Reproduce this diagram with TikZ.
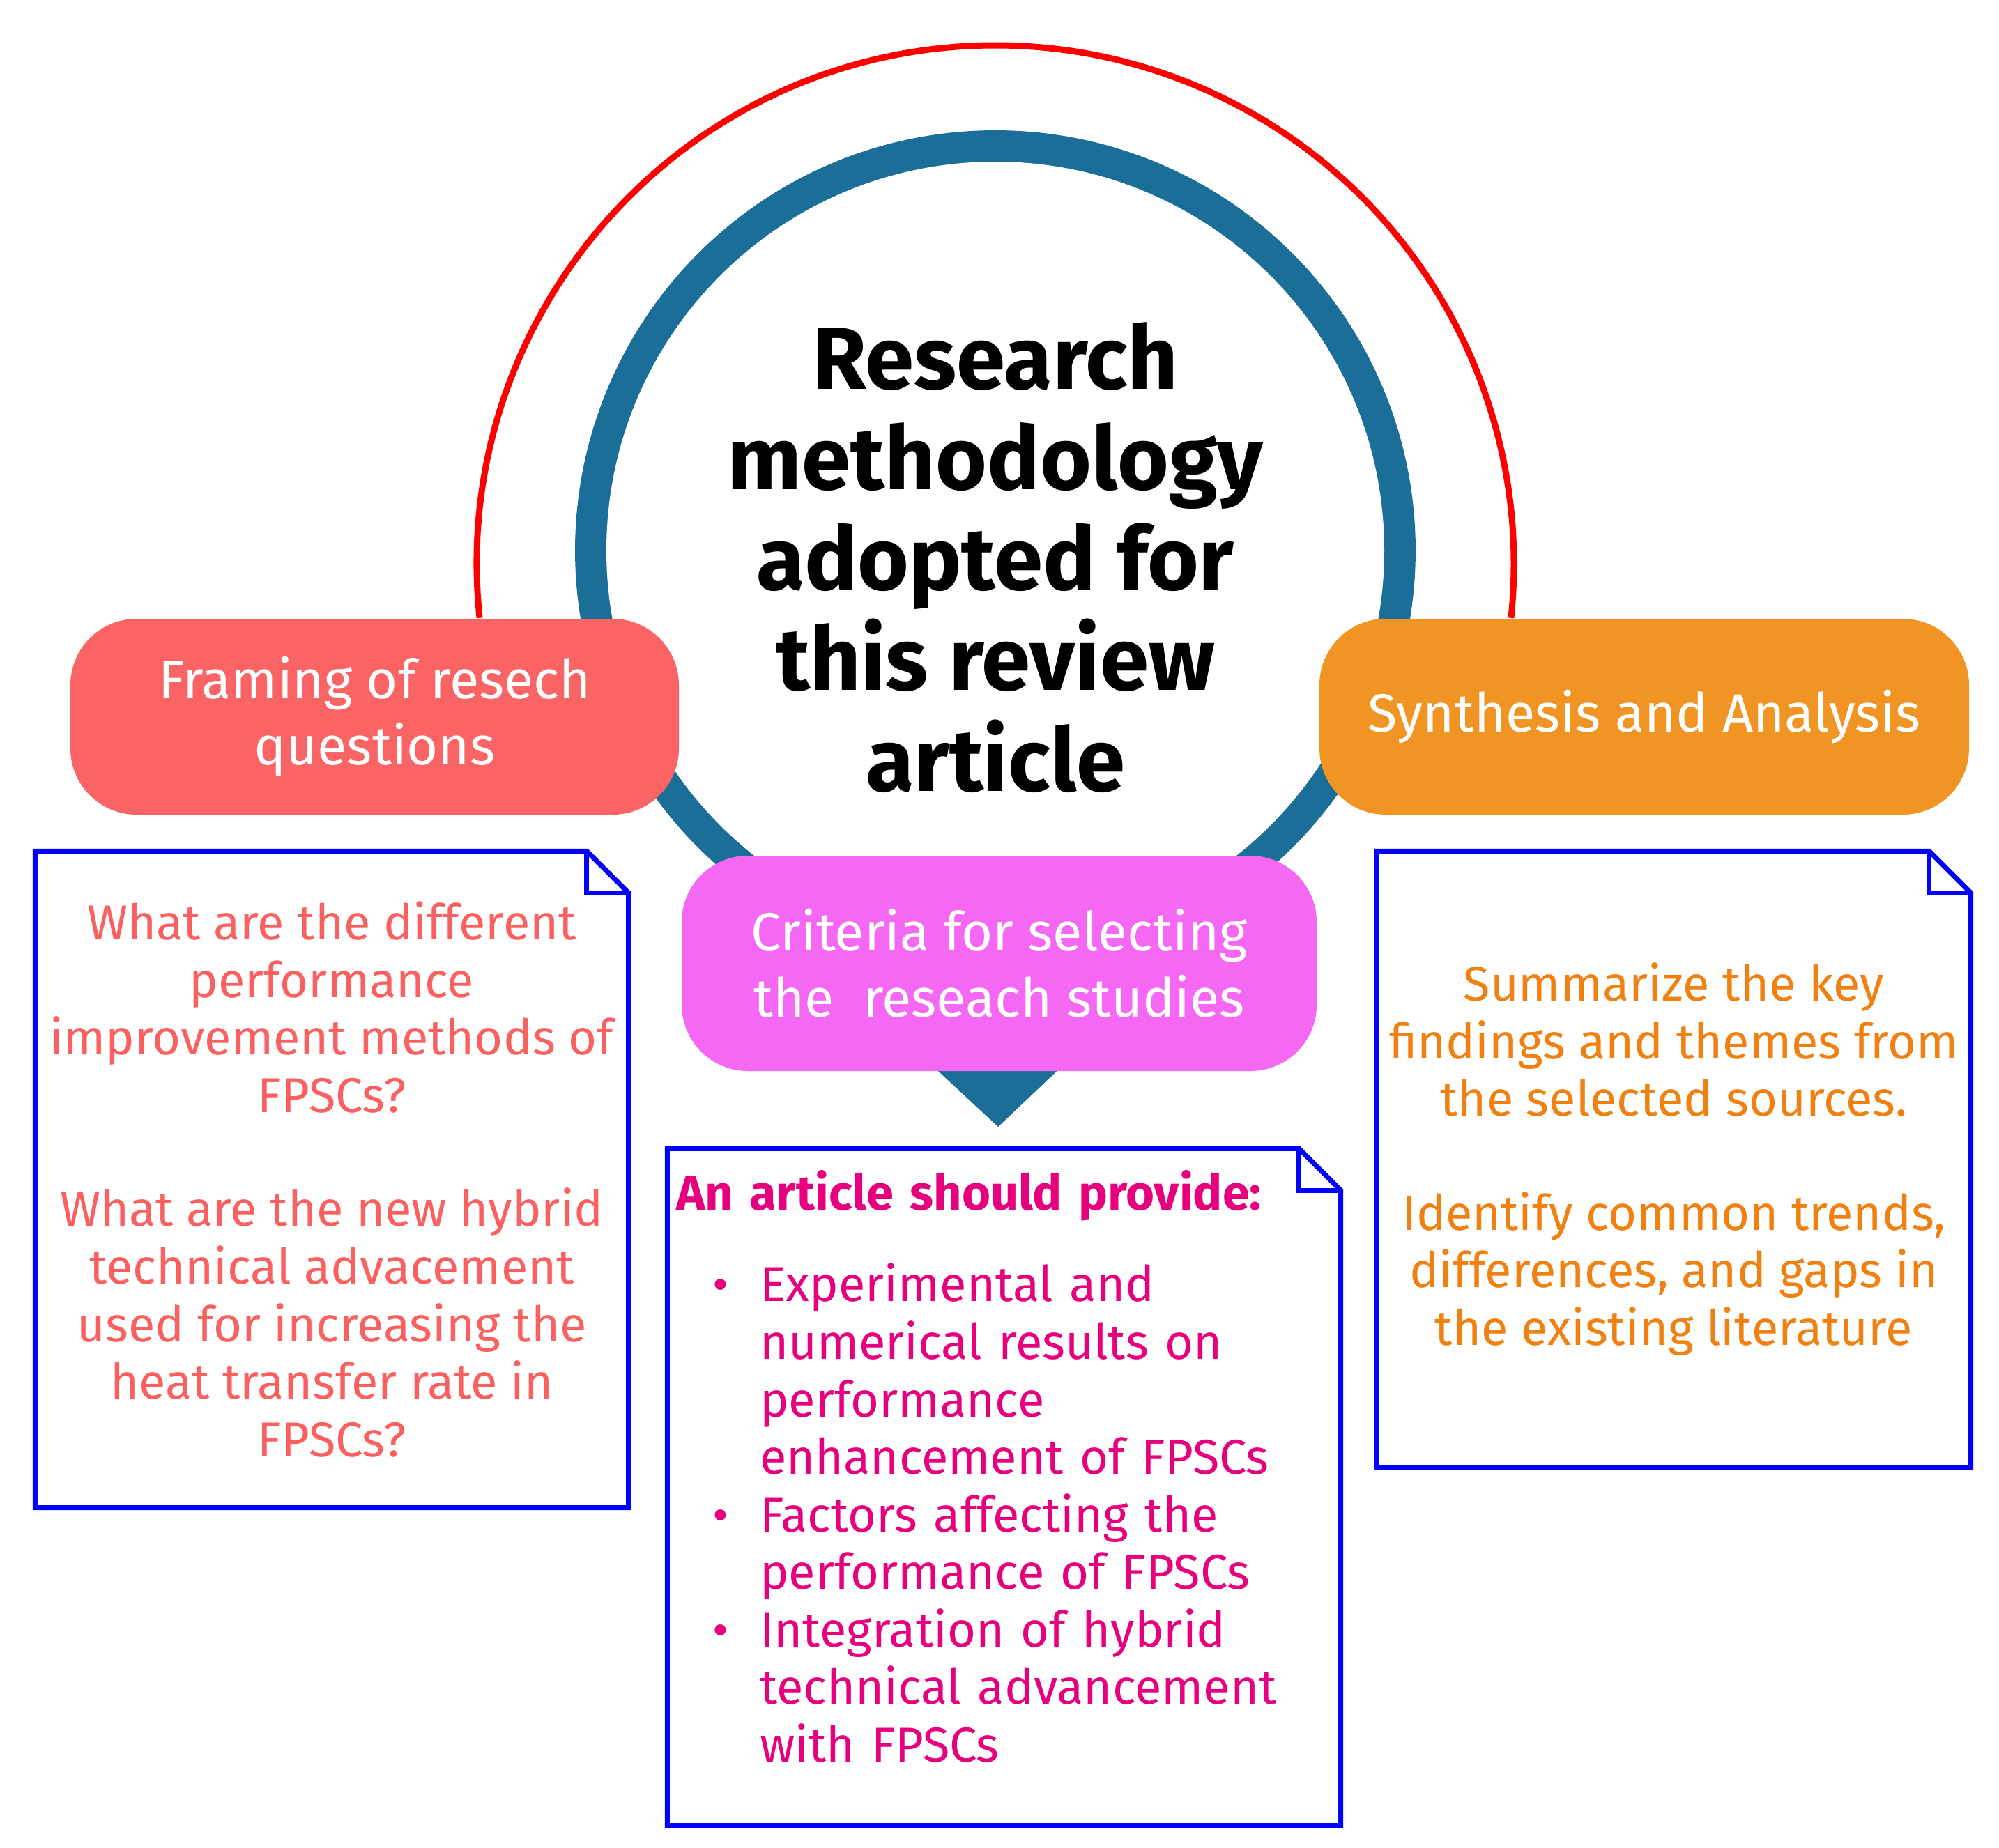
\documentclass[tikz,border=0pt]{standalone}
\usepackage{fontspec}
\setmainfont{Fira Sans}
\usepackage{enumitem}
\usetikzlibrary{calc}
\definecolor{pinblue}{RGB}{26,110,152}
\definecolor{salmon}{RGB}{250,100,100}
\definecolor{amber}{RGB}{240,148,36}
\definecolor{orchid}{RGB}{244,104,244}
\definecolor{deeppink}{RGB}{230,0,126}
\definecolor{notered}{RGB}{250,96,96}
\definecolor{noteorange}{RGB}{240,128,16}
\begin{document}
\begin{tikzpicture}
		[stage/.style={rounded corners=0.95cm, text=white, align=center,
		font=\fontsize{22}{27}\selectfont, inner sep=0pt},
		note/.style={draw=none, minimum width=#1, inner sep=0pt},
		notetext/.style={align=center, font=\fontsize{20}{23.5}\selectfont}]
		
		\useasboundingbox (0,0) rectangle (28.68,-26.52);
		
		% outer red arc and the blue pin
		\coordinate (c) at (14.28,-7.90);
		\coordinate (tip) at (14.32,-16.17);
		\draw[red, line width=0.09cm] (14.28,-8.09) ++(186:7.44) arc (186:-6:7.44);
		\fill[pinblue] (tip) -- ($(c)+(-46.8:6.03)$) arc (-46.8:226.8:6.03) -- cycle;
		\fill[white] (c) circle (5.58);
		\node[align=center, font=\bfseries\fontsize{36}{41}\selectfont] (title) at (14.28,-8.0)
		{Research\\methodology\\adopted for\\this review\\article};
		
		% the three stages
		\node[stage, fill=salmon, minimum width=8.73cm, minimum height=2.81cm] (framing)
		at (5.375,-10.285) {Framing of resech\\questions};
		\node[stage, fill=amber, minimum width=9.32cm, minimum height=2.81cm] (synth)
		at (23.59,-10.285) {Synthesis and Analysis};
		\node[stage, fill=orchid, minimum width=9.11cm, minimum height=3.09cm] (crit)
		at (14.335,-13.825) {Criteria for selecting\\the \ reseach studies};
		
		% notes with folded corner
		\node[note=8.50cm, minimum height=9.41cm] (qbox) at (4.76,-16.925) {};
		\node[note=9.65cm, minimum height=9.70cm] (abox) at (14.405,-21.34) {};
		\node[note=8.51cm, minimum height=8.83cm] (sbox) at (24.015,-16.635) {};
		\foreach \n in {qbox,abox,sbox}{
			\draw[blue, line width=0.07cm, line join=miter] (\n.north west)
			-- ([xshift=-0.6cm]\n.north east) -- ([yshift=-0.6cm]\n.north east)
			-- (\n.south east) -- (\n.south west) -- cycle;
			\draw[blue, line width=0.07cm] ([xshift=-0.6cm]\n.north east)
			|- ([yshift=-0.6cm]\n.north east);
		}
		
		\node[notetext, text=notered] (qtext) at (qbox.center)
		{What are the different\\performance\\improvement methods of\\FPSCs?\\[23pt]
		What are the new hybrid\\technical advacement\\used for increasing the\\heat transfer rate in\\FPSCs?};
		\node[notetext, text=noteorange] (stext) at (sbox.center)
		{Summarize the key\\findings and themes from\\the selected sources.\\[23pt]
		Identify common trends,\\differences, and gaps in\\the existing literature};
		
		\node[anchor=north west, text width=9.2cm, text=deeppink, inner sep=0pt,
		font=\fontsize{20}{23.5}\selectfont] (atext) at ([xshift=0.12cm,yshift=-0.3cm]abox.north west)
		{\textbf{An article should provide:}
			\begin{itemize}[leftmargin=1.2cm, labelsep=0.45cm, itemsep=0pt, topsep=14pt, parsep=0pt]
				\item Experimental and numerical results on performance enhancement of FPSCs
				\item Factors affecting the performance of FPSCs
				\item Integration of hybrid technical advancement with FPSCs
		\end{itemize}};
		
		\end{tikzpicture}
\end{document}
